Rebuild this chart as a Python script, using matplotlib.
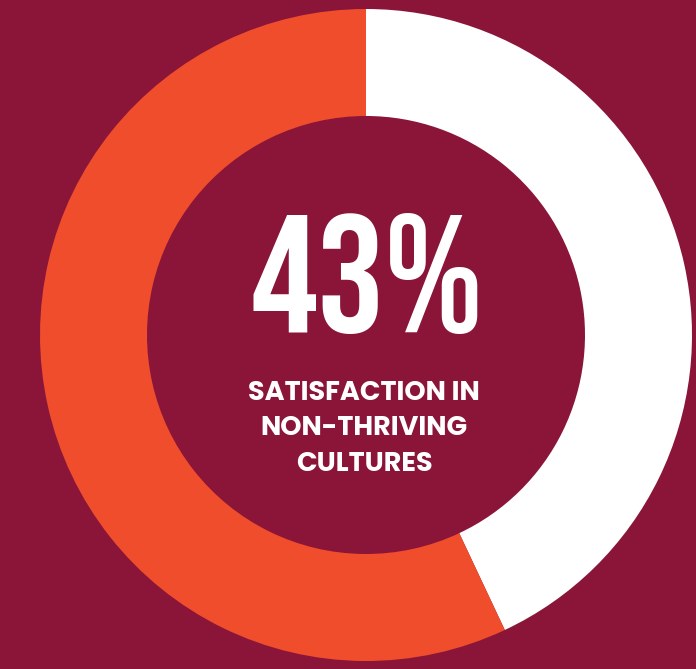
import matplotlib.pyplot as plt

# valores del donut (blanco = 43%, naranja = resto)
values = [43, 57]
colors = ['#FFFFFF', '#EF4D2C']
big_label = '43%'
caption = ['SATISFACTION IN', 'NON-THRIVING', 'CULTURES']

bg = '#8A1538'
W, H = 696, 669

fig = plt.figure(figsize=(W / 100, H / 100), dpi=100, facecolor=bg)
ax = fig.add_axes([0, 0, 1, 1])
ax.set_facecolor(bg)

ax.pie(values, colors=colors, center=(366, H - 335), radius=326,
       startangle=90, counterclock=False,
       wedgeprops=dict(width=107, linewidth=0))

# limites en pixeles (pie los cambia)
ax.set_xlim(0, W)
ax.set_ylim(0, H)
ax.set_aspect('auto')
ax.axis('off')

ax.text(367, H - 332, big_label, ha='center', va='baseline', color='white',
        fontsize=121, family=['Bebas Neue', 'Oswald', 'DejaVu Sans'])

baselines = [400, 435, 471]
for line, yb in zip(caption, baselines):
    ax.text(364, H - yb, line, ha='center', va='baseline', color='white',
            fontsize=19.5, fontweight='bold', family=['Poppins', 'Lato', 'DejaVu Sans'])

fig.savefig('out.png', dpi=100, facecolor=bg)
